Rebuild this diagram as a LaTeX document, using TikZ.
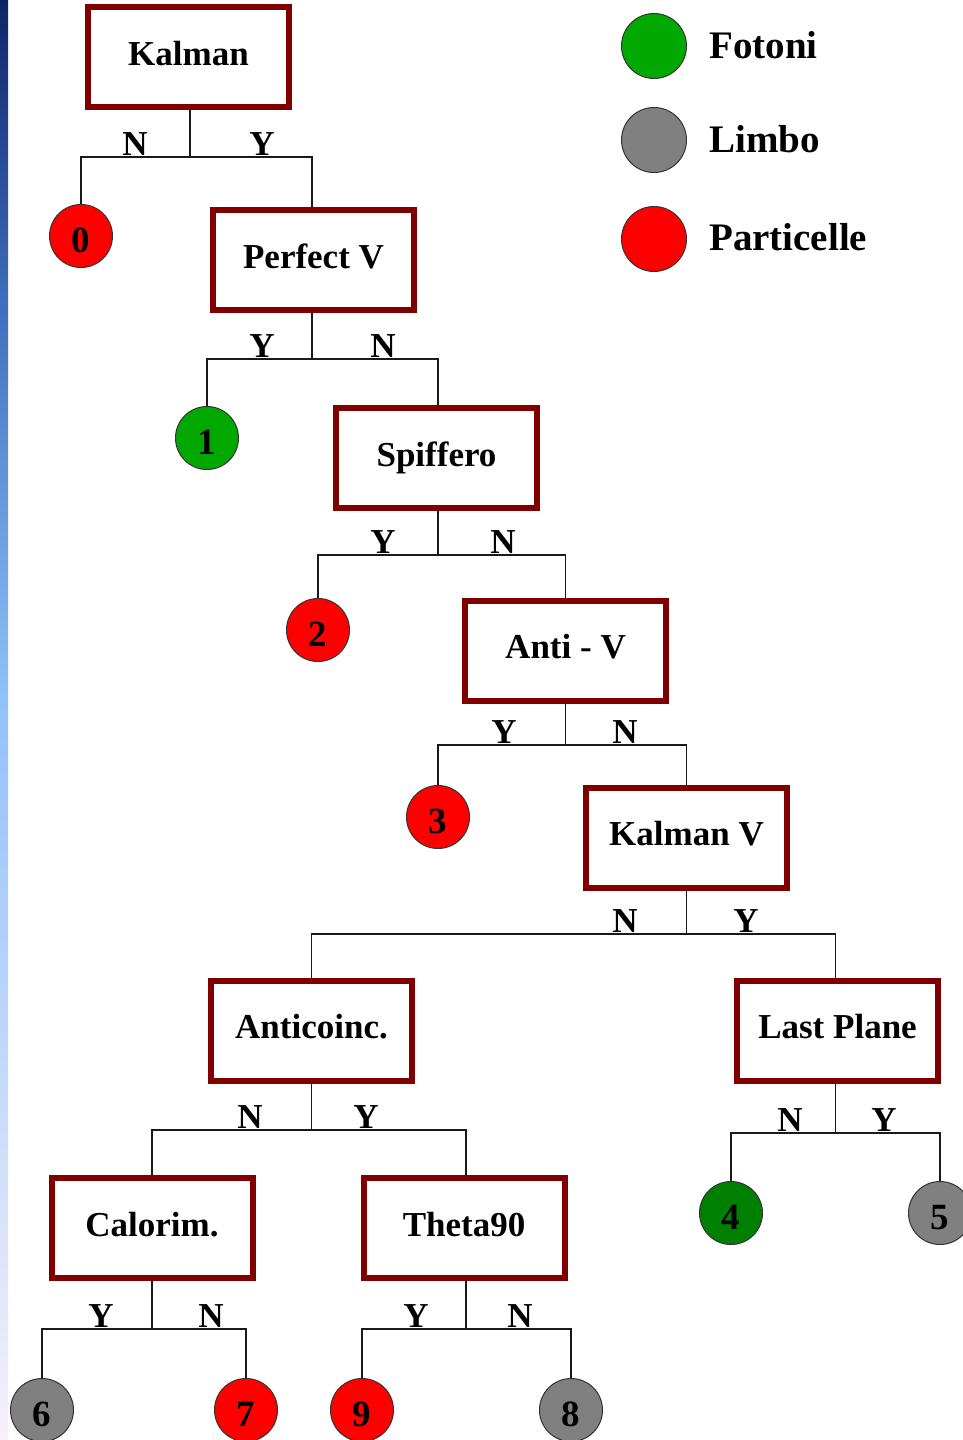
\documentclass[tikz,border=0pt]{standalone}
\usepackage{fontspec}
\setmainfont{Liberation Serif}
\usetikzlibrary{backgrounds}
\definecolor{boxred}{RGB}{128,0,0}
\definecolor{photon}{RGB}{0,168,0}
\definecolor{photondark}{RGB}{0,128,0}
\definecolor{limbo}{RGB}{128,128,128}
\definecolor{particle}{RGB}{255,0,0}
\begin{document}
\begin{tikzpicture}[x=1pt,y=-1pt,
  testbox/.style={draw=boxred, line width=6pt, fill=white, minimum width=201pt,
    minimum height=100pt, inner sep=0pt, outer sep=0pt,
    font=\bfseries\fontsize{35}{40}\selectfont, text height=24pt, text depth=8pt},
  leaf/.style={circle, draw=black!80, line width=1pt, minimum size=63pt, inner sep=0pt,
    outer sep=0pt, font=\bfseries\fontsize{37}{42}\selectfont, text height=32pt, text depth=0pt},
  yn/.style={font=\bfseries\fontsize{35}{40}\selectfont, inner sep=0pt, anchor=base},
  legtext/.style={font=\bfseries\fontsize{39}{44}\selectfont, inner sep=0pt, anchor=base west},
  wire/.style={draw=black!90, line width=1.2pt}]

\useasboundingbox (0,0) rectangle (963,1440);

% decision boxes
\node[testbox] (k1) at (188.5,57)    {Kalman};
\node[testbox] (pv) at (313.5,260)   {Perfect V};
\node[testbox] (sp) at (436.5,458)   {Spiffero};
\node[testbox] (av) at (565.5,650.5) {Anti - V};
\node[testbox] (kv) at (686.5,837.5) {Kalman V};
\node[testbox] (ac) at (311.5,1030.5){Anticoinc.};
\node[testbox] (lp) at (837.5,1030.5){Last Plane};
\node[testbox] (ca) at (152,1228)    {Calorim.};
\node[testbox] (th) at (464,1228)    {Theta90};

% outcomes
\node[leaf, fill=particle]   (c0) at (81,236)   {0};
\node[leaf, fill=photon]     (c1) at (207,438)  {1};
\node[leaf, fill=particle]   (c2) at (318,630)  {2};
\node[leaf, fill=particle]   (c3) at (438,817)  {3};
\node[leaf, fill=photondark] (c4) at (731,1213) {4};
\node[leaf, fill=limbo]      (c5) at (940,1213) {5};
\node[leaf, fill=limbo]      (c6) at (42,1410)  {6};
\node[leaf, fill=particle]   (c7) at (246,1410) {7};
\node[leaf, fill=limbo]      (c8) at (571,1410) {8};
\node[leaf, fill=particle]   (c9) at (362,1410) {9};

\begin{scope}[on background layer]
% page and left edge strip
\fill[white] (0,0) rectangle (963,1440);
\shade[top color={rgb,255:red,14;green,36;blue,104}, bottom color={rgb,255:red,62;green,110;blue,188}] (0,0) rectangle (8,300);
\shade[top color={rgb,255:red,62;green,110;blue,188}, bottom color={rgb,255:red,146;green,194;blue,250}] (0,300) rectangle (8,700);
\shade[top color={rgb,255:red,146;green,194;blue,250}, bottom color={rgb,255:red,246;green,240;blue,250}] (0,700) rectangle (8,1440);
% branches
\draw[wire] ([xshift=1.5pt]k1.south) -- ++(0,50) coordinate (b1) -| (c0.north);
\draw[wire] (b1) -| ([xshift=-1.5pt]pv.north);
\draw[wire] ([xshift=-1.5pt]pv.south) -- ++(0,49) coordinate (b2) -| (c1.north);
\draw[wire] (b2) -| ([xshift=1.5pt]sp.north);
\draw[wire] ([xshift=1.5pt]sp.south) -- ++(0,47) coordinate (b3) -| (c2.north);
\draw[wire] (b3) -| (av.north);
\draw[wire] (av.south) -- ++(0,44.5) coordinate (b4) -| (c3.north);
\draw[wire] (b4) -| (kv.north);
\draw[wire] (kv.south) -- ++(0,46.5) coordinate (b5) -| (ac.north);
\draw[wire] (b5) -| ([xshift=-2pt]lp.north);
\draw[wire] (ac.south) -- ++(0,49.5) coordinate (b6) -| (ca.north);
\draw[wire] (b6) -| ([xshift=2pt]th.north);
\draw[wire] ([xshift=-2pt]lp.south) -- ++(0,52.5) coordinate (b7) -| (c4.north);
\draw[wire] (b7) -| (c5.north);
\draw[wire] (ca.south) -- ++(0,51) coordinate (b8) -| (c6.north);
\draw[wire] (b8) -| (c7.north);
\draw[wire] ([xshift=2pt]th.south) -- ++(0,51) coordinate (b9) -| (c9.north);
\draw[wire] (b9) -| (c8.north);
\end{scope}

% branch labels
\node[yn] (l1n) at (135,155)  {N};
\node[yn] (l1y) at (262,155)  {Y};
\node[yn] (l2y) at (262,357)  {Y};
\node[yn] (l2n) at (383,357)  {N};
\node[yn] (l3y) at (383,553)  {Y};
\node[yn] (l3n) at (503,553)  {N};
\node[yn] (l4y) at (504,743)  {Y};
\node[yn] (l4n) at (625,743)  {N};
\node[yn] (l5n) at (625,932)  {N};
\node[yn] (l5y) at (746,932)  {Y};
\node[yn] (l6n) at (250,1128) {N};
\node[yn] (l6y) at (366,1128) {Y};
\node[yn] (l7n) at (790,1131) {N};
\node[yn] (l7y) at (884,1131) {Y};
\node[yn] (l8y) at (101,1327) {Y};
\node[yn] (l8n) at (211,1327) {N};
\node[yn] (l9y) at (416,1327) {Y};
\node[yn] (l9n) at (520,1327) {N};

% legend
\node[leaf, minimum size=65pt, fill=photon]   (g1) at (654,46)  {};
\node[leaf, minimum size=65pt, fill=limbo]    (g2) at (654,140) {};
\node[leaf, minimum size=65pt, fill=particle] (g3) at (654,239) {};
\node[legtext] (t1) at (709,58)  {Fotoni};
\node[legtext] (t2) at (709,152) {Limbo};
\node[legtext] (t3) at (709,250) {Particelle};
\end{tikzpicture}
\end{document}
